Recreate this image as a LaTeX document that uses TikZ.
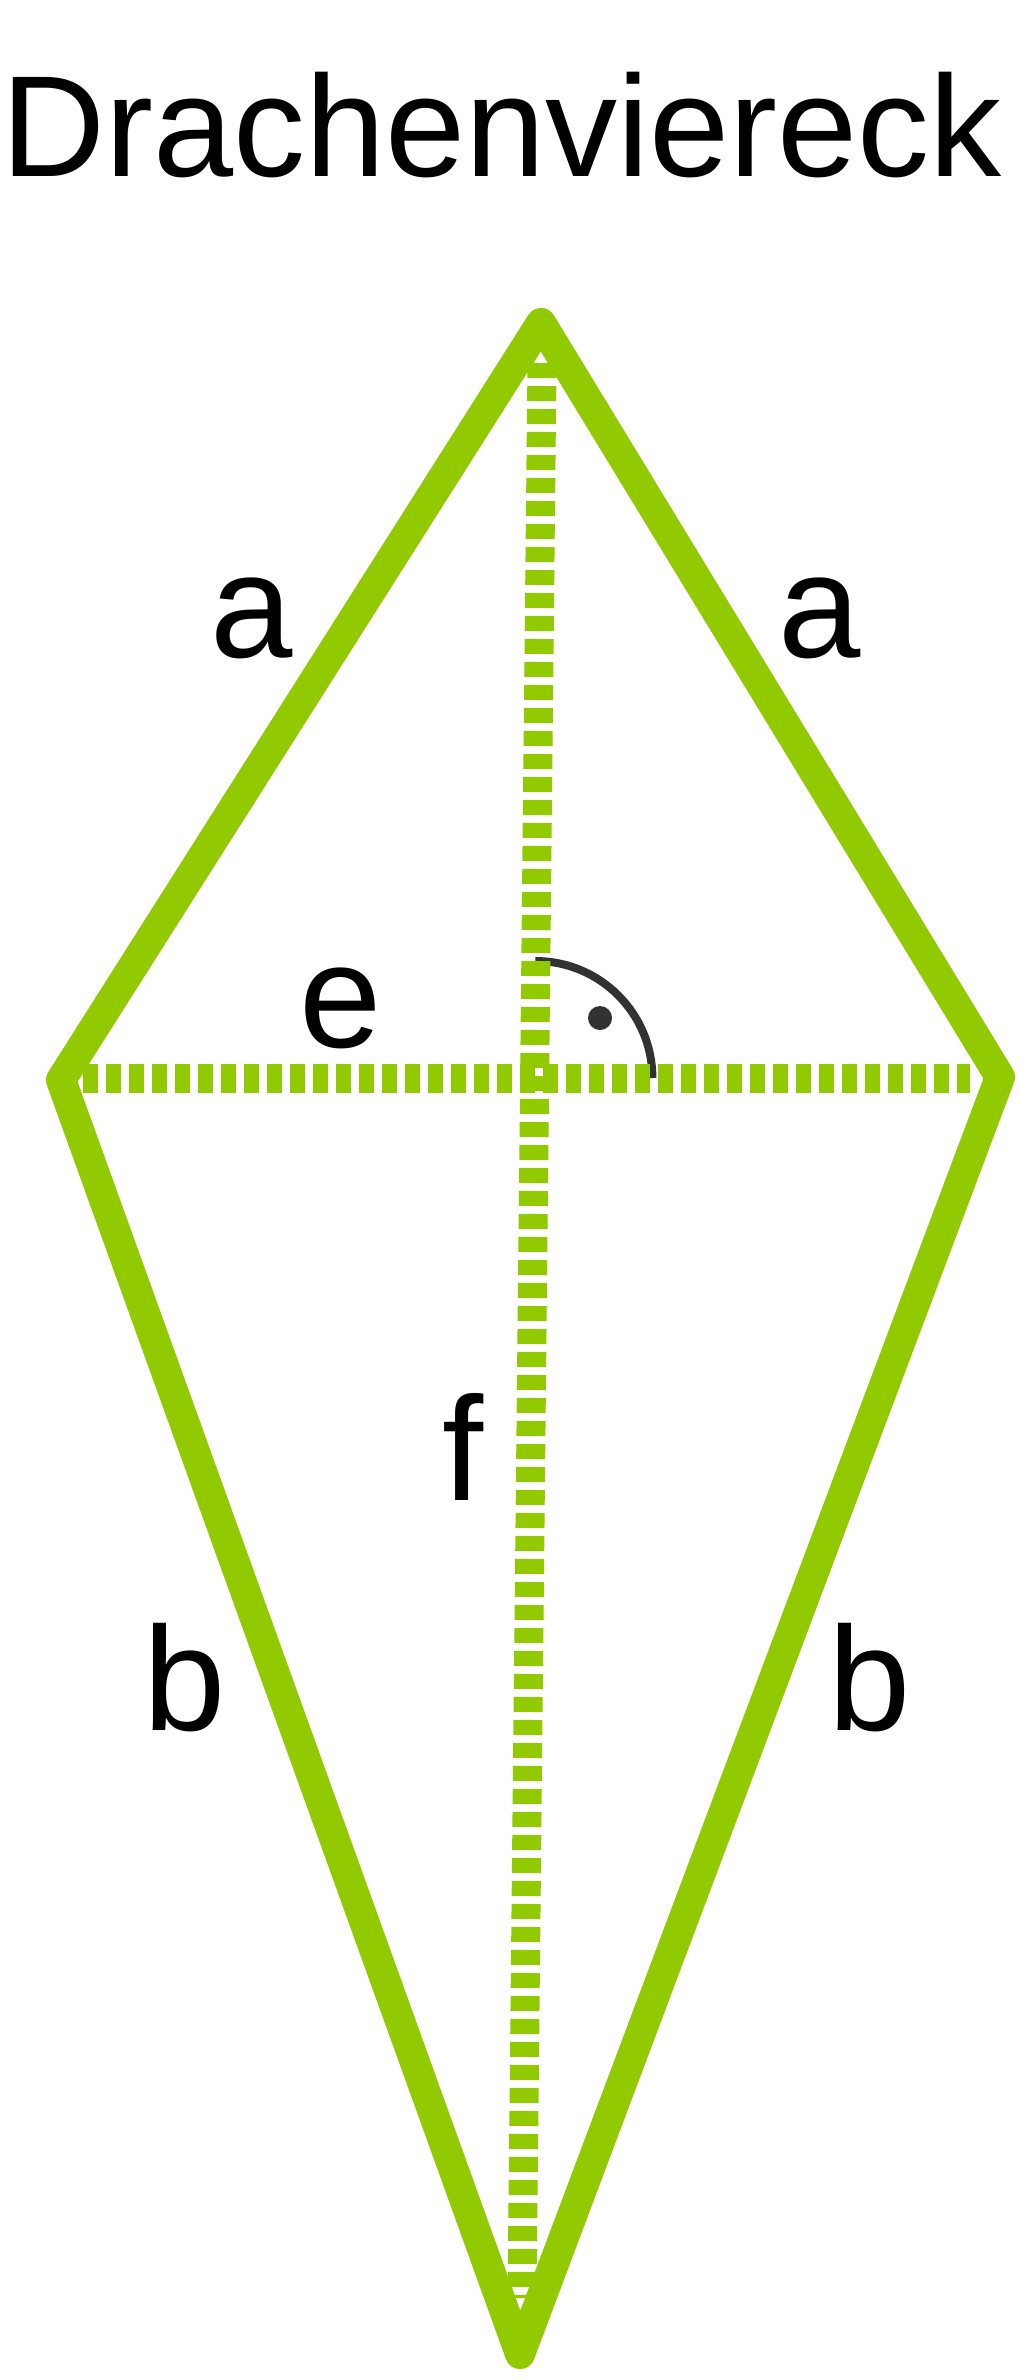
\documentclass[tikz,border=0pt]{standalone}
\usepackage{fontspec}
\setmainfont{Liberation Sans}
\begin{document}
\begin{tikzpicture}[x=0.5pt,y=-0.5pt,
  kite/.style={draw=kitegreen,line width=15pt,line join=round},
  diag/.style={draw=kitegreen,line width=14.5pt,dash pattern=on 7.5pt off 4pt},
  lbl/.style={anchor=base,inner sep=0pt,font=\fontsize{74}{80}\selectfont},
  angmark/.style={draw=markgray,line width=4pt}]
\definecolor{kitegreen}{RGB}{145,202,0}
\definecolor{markgray}{RGB}{50,50,50}
\useasboundingbox[fill=white] (0,0) rectangle (1020,2380);
% title
\node[anchor=base west,inner sep=0pt,font=\fontsize{72}{80}\selectfont] (title) at (1,177) {Drachenviereck};
% vertices
\coordinate (T) at (541,323);
\coordinate (L) at (61,1080);
\coordinate (R) at (1000,1077);
\coordinate (B) at (520,2354);
% diagonal end points
\coordinate (eL) at (83,1078);
\coordinate (eR) at (970,1078);
\coordinate (fT) at (542,363);
\coordinate (fB) at (522,2298);
\coordinate (M) at (535.4,1078);
% right angle mark
\draw[angmark] ([shift={(0,-117)}]M) arc[start angle=-90,end angle=0,radius=117];
\fill[markgray] (600,1018) circle[radius=12];
% diagonals
\draw[diag] (eL) -- (eR);
\draw[diag] (fT) -- (fB);
% kite outline
\draw[kite] (T) -- (R) -- (B) -- (L) -- cycle;
% labels
\node[lbl] (la1) at (252,657) {a};
\node[lbl] (la2) at (820,657) {a};
\node[lbl] (le) at (341,1047) {e};
\node[lbl] (lf) at (463,1500) {f};
\node[lbl] (lb1) at (185,1730) {b};
\node[lbl] (lb2) at (870,1730) {b};
\end{tikzpicture}
\end{document}
